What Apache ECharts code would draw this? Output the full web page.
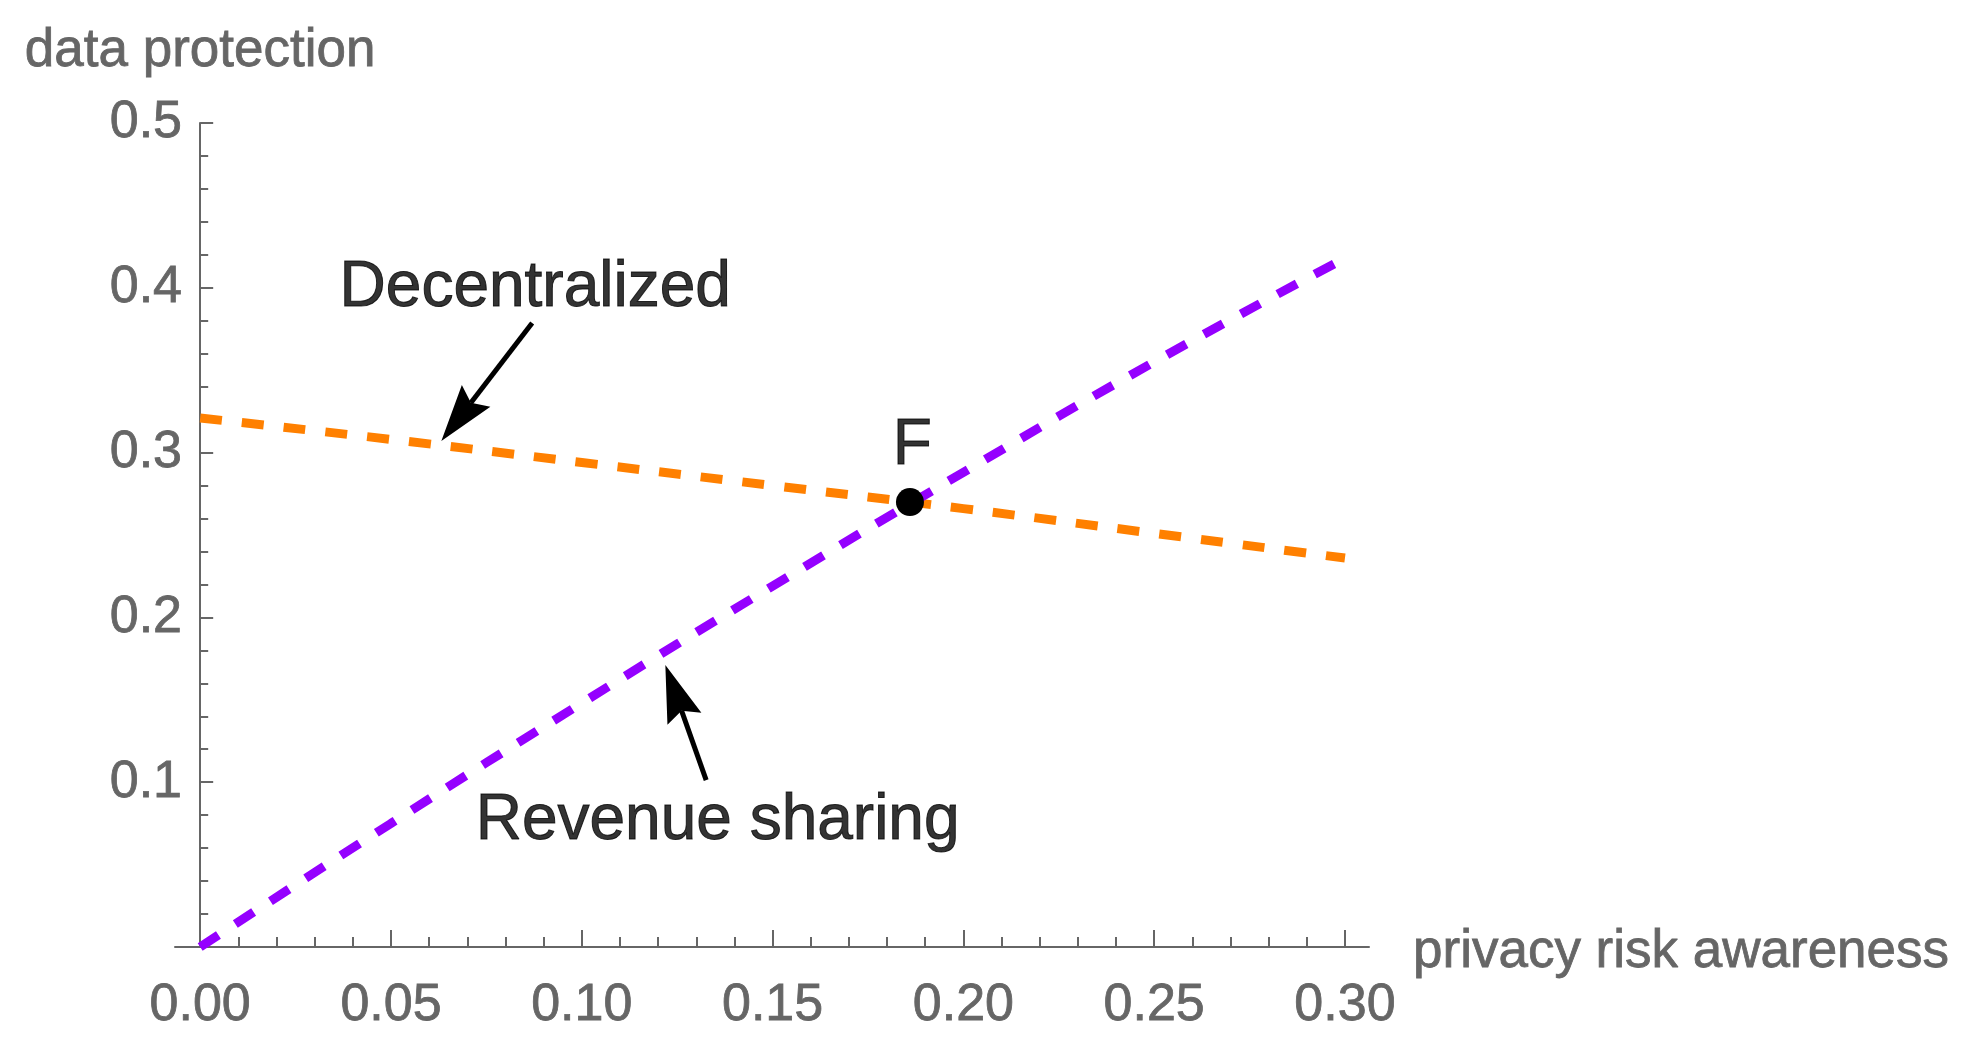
<!DOCTYPE html>
<html>
<head>
<meta charset="utf-8">
<script src="https://cdn.jsdelivr.net/npm/echarts@6/dist/echarts.min.js"></script>
<style>
html,body{margin:0;padding:0;background:#fff;}
#chart{width:1986px;height:1056px;}
</style>
</head>
<body>
<div id="chart"></div>
<script>
// ---- data ----
const xValues        = [0.00, 0.05, 0.10, 0.15, 0.20, 0.25, 0.30];
const decentralized  = [0.321, 0.308, 0.294, 0.280, 0.266, 0.251, 0.236];
const revenueSharing = [0.000, 0.075, 0.148, 0.219, 0.288, 0.355, 0.418];
const pointF         = [0.186, 0.270];

const xMajorTicks = [0.00, 0.05, 0.10, 0.15, 0.20, 0.25, 0.30];
const xMinorTicks = [0.01,0.02,0.03,0.04,0.06,0.07,0.08,0.09,0.11,0.12,0.13,0.14,
                     0.16,0.17,0.18,0.19,0.21,0.22,0.23,0.24,0.26,0.27,0.28,0.29];
const yTickLabels = [0.1, 0.2, 0.3, 0.4, 0.5];

const labelNames = ['Decentralized', 'Revenue sharing', 'F'];
const labelX     = [0.0878, 0.1356, 0.1866];
const labelY     = [0.3998, 0.0765, 0.3040];

// arrows: tail (x,y) -> tip (x,y)
const arrowTailX = [0.0870, 0.1326];
const arrowTailY = [0.3786, 0.1013];
const arrowTipX  = [0.0632, 0.1219];
const arrowTipY  = [0.3070, 0.1711];

const FONT = '"Liberation Sans", Arial, Helvetica, sans-serif';
const GRAY = '#666666';

const chart = echarts.init(document.getElementById('chart'));

const arrowData = arrowTailX.map((_, i) => [arrowTailX[i], arrowTailY[i], arrowTipX[i], arrowTipY[i]]);

chart.setOption({
  animation: false,
  backgroundColor: '#ffffff',
  grid: { left: 175, right: 617, top: 123, bottom: 109, containLabel: false },
  xAxis: [
    {
      type: 'value', min: -0.0066, max: 0.3063, position: 'bottom',
      axisLine: { show: true, onZero: true, lineStyle: { color: GRAY, width: 2 } },
      axisTick: { show: true, inside: true, length: 17, customValues: xMajorTicks,
                  lineStyle: { color: GRAY, width: 2 } },
      axisLabel: { show: true, customValues: xMajorTicks, margin: 33,
                   formatter: v => Number(v).toFixed(2),
                   color: GRAY, fontSize: 52, fontFamily: FONT,
                   textBorderColor: GRAY, textBorderWidth: 0.8 },
      splitLine: { show: false },
      name: '{n|privacy risk awareness}', nameLocation: 'end', nameGap: 44,
      nameTextStyle: { align: 'left', verticalAlign: 'middle',
        rich: { n: { color: GRAY, fontSize: 53, fontFamily: FONT, padding: [10, 0, 0, 0],
                     textBorderColor: GRAY, textBorderWidth: 0.8 } } }
    },
    {
      type: 'value', min: -0.0066, max: 0.3063, position: 'bottom', gridIndex: 0,
      axisLine: { show: false, onZero: true },
      axisTick: { show: true, inside: true, length: 10, customValues: xMinorTicks,
                  lineStyle: { color: GRAY, width: 2 } },
      axisLabel: { show: false },
      splitLine: { show: false }
    }
  ],
  yAxis: {
    type: 'value', min: 0, max: 0.5, interval: 0.1,
    axisLine: { show: true, onZero: true, lineStyle: { color: GRAY, width: 2 } },
    axisTick: { show: true, inside: true, length: 13, lineStyle: { color: GRAY, width: 2 } },
    minorTick: { show: true, splitNumber: 5, length: 8, lineStyle: { color: GRAY, width: 2 } },
    axisLabel: { show: true, margin: -7, customValues: yTickLabels,
                 formatter: v => Number(v).toFixed(1), padding: [8, 0, 0, 0],
                 color: GRAY, fontSize: 52, fontFamily: FONT,
                 textBorderColor: GRAY, textBorderWidth: 0.8 },
    splitLine: { show: false },
    minorSplitLine: { show: false },
    name: 'data protection', nameLocation: 'end', nameGap: 72,
    nameTextStyle: { color: GRAY, fontSize: 53, fontFamily: FONT, align: 'center', verticalAlign: 'middle',
                     textBorderColor: GRAY, textBorderWidth: 0.8 }
  },
  series: [
    {
      name: 'Decentralized', type: 'line', xAxisIndex: 0, yAxisIndex: 0,
      data: xValues.map((x, i) => [x, decentralized[i]]),
      showSymbol: false, smooth: true, z: 2,
      lineStyle: { color: '#ff8000', width: 9, type: [22, 20], cap: 'butt' }
    },
    {
      name: 'Revenue sharing', type: 'line', xAxisIndex: 0, yAxisIndex: 0,
      data: xValues.map((x, i) => [x, revenueSharing[i]]),
      showSymbol: false, smooth: true, z: 3,
      lineStyle: { color: '#9500ff', width: 9, type: [22, 20], cap: 'butt' }
    },
    {
      name: 'F', type: 'scatter', xAxisIndex: 0, yAxisIndex: 0,
      data: [pointF], symbol: 'circle', symbolSize: 28, z: 5,
      itemStyle: { color: '#000000', opacity: 1 }
    },
    {
      name: 'labels', type: 'scatter', xAxisIndex: 0, yAxisIndex: 0,
      data: labelNames.map((n, i) => ({ name: n, value: [labelX[i], labelY[i]] })),
      symbolSize: 1, z: 6, silent: true,
      itemStyle: { color: 'rgba(0,0,0,0)' },
      label: { show: true, position: 'inside', formatter: '{b}',
               color: '#000000', fontSize: 64, fontFamily: FONT,
               textBorderColor: '#000000', textBorderWidth: 1 }
    },
    {
      name: 'arrows', type: 'custom', xAxisIndex: 0, yAxisIndex: 0, z: 6,
      encode: { x: [0, 2], y: [1, 3] },
      data: arrowData,
      renderItem: function (params, api) {
        const p1 = api.coord([api.value(0), api.value(1)]);
        const p2 = api.coord([api.value(2), api.value(3)]);
        const dx = p2[0] - p1[0], dy = p2[1] - p1[1];
        const len = Math.hypot(dx, dy);
        const ux = dx / len, uy = dy / len;
        const px = -uy, py = ux;
        const L = 57, W = 36, notch = 0.85 * L;
        const base = [p2[0] - ux * L, p2[1] - uy * L];
        const n = [p2[0] - ux * notch, p2[1] - uy * notch];
        return {
          type: 'group',
          children: [
            { type: 'line', shape: { x1: p1[0], y1: p1[1], x2: n[0], y2: n[1] },
              style: { stroke: '#000', lineWidth: 5 } },
            { type: 'polygon',
              shape: { points: [p2, [base[0] + px * W / 2, base[1] + py * W / 2], n,
                                [base[0] - px * W / 2, base[1] - py * W / 2]] },
              style: { fill: '#000' } }
          ]
        };
      }
    }
  ]
});
</script>
</body>
</html>
